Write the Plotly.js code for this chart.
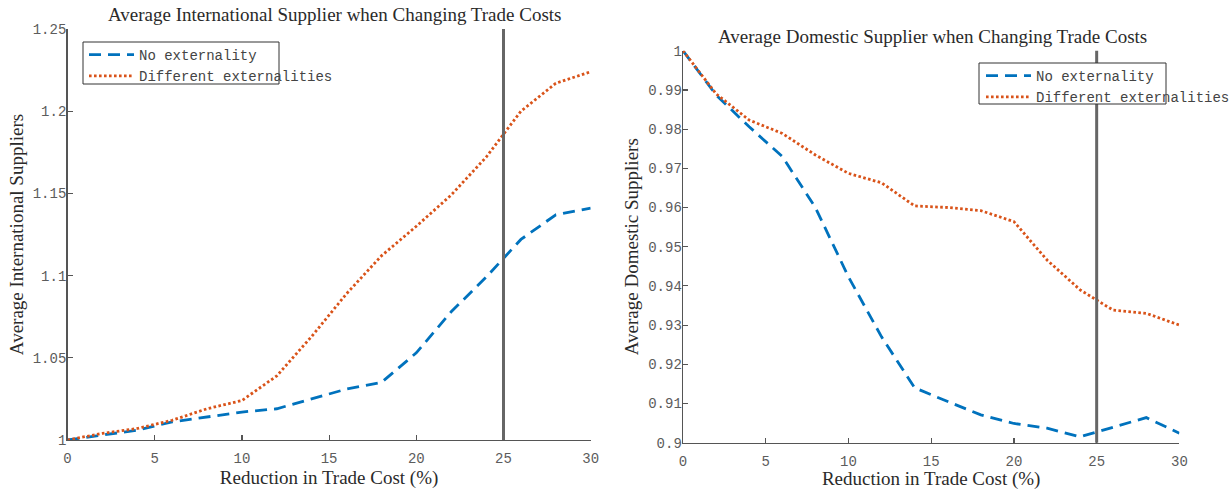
<!DOCTYPE html>
<html>
<head>
<meta charset="utf-8">
<script src="https://cdn.plot.ly/plotly-3.0.1.min.js"></script>
<style>html,body{margin:0;padding:0;background:#fff;}#chart{width:1229px;height:490px;}</style>
</head>
<body>
<div id="chart"></div>
<script>
// Reduction in trade cost (%)
const tradeCut = [0, 2, 4, 6, 8, 10, 12, 14, 16, 18, 20, 22, 24, 26, 28, 30];

// Left panel: average international suppliers
const intlNoExt   = [1.000, 1.003, 1.006, 1.011, 1.014, 1.017, 1.019, 1.025, 1.031, 1.035, 1.053, 1.078, 1.099, 1.122, 1.137, 1.141];
const intlDiffExt = [1.000, 1.004, 1.007, 1.012, 1.019, 1.024, 1.039, 1.063, 1.089, 1.112, 1.130, 1.149, 1.172, 1.200, 1.217, 1.224];

// Right panel: average domestic suppliers
const domNoExt   = [1.000, 0.9887, 0.9806, 0.9730, 0.9600, 0.9423, 0.9270, 0.9140, 0.9105, 0.9071, 0.9049, 0.9037, 0.9015, 0.9040, 0.9064, 0.9024];
const domDiffExt = [1.000, 0.9890, 0.9823, 0.9789, 0.9734, 0.9687, 0.9663, 0.9604, 0.9600, 0.9592, 0.9564, 0.9466, 0.9390, 0.9338, 0.9330, 0.9300];

// Policy marker (vertical line)
const markerX = 25;

// Tick labels
const xTickVals = [0, 5, 10, 15, 20, 25, 30];
const xTickText = ["0", "5", "10", "15", "20", "25", "30"];
const intlTickVals = [1, 1.05, 1.1, 1.15, 1.2, 1.25];
const intlTickText = ["1", "1.05", "1.1", "1.15", "1.2", "1.25"];
const domTickVals = [0.9, 0.91, 0.92, 0.93, 0.94, 0.95, 0.96, 0.97, 0.98, 0.99, 1];
const domTickText = ["0.9", "0.91", "0.92", "0.93", "0.94", "0.95", "0.96", "0.97", "0.98", "0.99", "1"];

const seriesNames = ["No externality", "Different externalities"];

const BLUE = "#0072BD", ORANGE = "#D95319";
const MONO = "Liberation Mono, Courier New, monospace";
const SERIF = "Liberation Serif, Times New Roman, serif";
const AX = "#555";
const DASH = "12px,7px", DOT = "2.6px,2.4px";

const traces = [
  {x: tradeCut, y: intlNoExt, name: seriesNames[0], mode: "lines", line: {color: BLUE, width: 2.8, dash: DASH}, xaxis: "x", yaxis: "y", legend: "legend"},
  {x: tradeCut, y: intlDiffExt, name: seriesNames[1], mode: "lines", line: {color: ORANGE, width: 2.8, dash: DOT}, xaxis: "x", yaxis: "y", legend: "legend"},
  {x: tradeCut, y: domNoExt, name: seriesNames[0], mode: "lines", line: {color: BLUE, width: 2.8, dash: DASH}, xaxis: "x2", yaxis: "y2", legend: "legend2"},
  {x: tradeCut, y: domDiffExt, name: seriesNames[1], mode: "lines", line: {color: ORANGE, width: 2.8, dash: DOT}, xaxis: "x2", yaxis: "y2", legend: "legend2"}
];

const tickFont = {family: MONO, size: 14, color: "#5c5c5c"};
const titleFont = {family: SERIF, size: 19, color: "#2a2a2a"};
const axisCommon = {
  showgrid: false, zeroline: false, showline: true, linecolor: AX, linewidth: 1.4,
  ticks: "inside", ticklen: 5, tickcolor: AX, tickwidth: 1.2,
  tickfont: tickFont
};
const xCommon = Object.assign({}, axisCommon, {range: [0, 30], tickvals: xTickVals, ticktext: xTickText, ticklabelstandoff: 5,
  title: {text: "Reduction in Trade Cost (%)", font: titleFont, standoff: 3}});

const W = 1229, H = 490;
const px = v => v / W, py = v => 1 - v / H;

const legendCommon = {xanchor: "left", yanchor: "top", bgcolor: "rgba(0,0,0,0)", borderwidth: 0,
  font: {family: MONO, size: 14, color: "#444"}, itemwidth: 45, tracegroupgap: 0};

const layout = {
  width: W, height: H,
  margin: {l: 0, r: 0, t: 0, b: 0, autoexpand: false},
  paper_bgcolor: "#fff", plot_bgcolor: "#fff",
  xaxis: Object.assign({}, xCommon, {domain: [px(67.5), px(590.7)], anchor: "y"}),
  yaxis: Object.assign({}, axisCommon, {domain: [py(440), py(29)], range: [1, 1.25], tickvals: intlTickVals, ticktext: intlTickText, anchor: "x",
    ticklabelstandoff: -3, title: {text: "Average International Suppliers", font: titleFont, standoff: 4}}),
  xaxis2: Object.assign({}, xCommon, {domain: [px(683), px(1179.4)], anchor: "y2"}),
  yaxis2: Object.assign({}, axisCommon, {domain: [py(442.7), py(50.7)], range: [0.9, 1], tickvals: domTickVals, ticktext: domTickText, anchor: "x2",
    ticklabelstandoff: -3, title: {text: "Average Domestic Suppliers", font: titleFont, standoff: 4}}),
  legend: Object.assign({}, legendCommon, {x: px(84), y: py(39)}),
  legend2: Object.assign({}, legendCommon, {x: px(981), y: py(60)}),
  shapes: [
    {type: "line", xref: "x", yref: "y domain", x0: markerX, x1: markerX, y0: 0, y1: 1, line: {color: "#666", width: 3}, layer: "above"},
    {type: "line", xref: "x2", yref: "y2 domain", x0: markerX, x1: markerX, y0: 0, y1: 1, line: {color: "#666", width: 3}, layer: "above"},
    {type: "rect", xref: "paper", yref: "paper", x0: px(83), x1: px(279), y0: py(84), y1: py(42), fillcolor: "#fff", line: {color: "#333", width: 1}, layer: "above"},
    {type: "rect", xref: "paper", yref: "paper", x0: px(979), x1: px(1166), y0: py(104), y1: py(63), fillcolor: "#fff", line: {color: "#333", width: 1}, layer: "above"}
  ],
  annotations: [
    {text: "Average International Supplier when Changing Trade Costs", xref: "paper", yref: "paper", x: px(334), y: py(14), xanchor: "center", yanchor: "middle", showarrow: false, font: titleFont},
    {text: "Average Domestic Supplier when Changing Trade Costs", xref: "paper", yref: "paper", x: px(932), y: py(36), xanchor: "center", yanchor: "middle", showarrow: false, font: titleFont}
  ],
  showlegend: true
};

Plotly.newPlot("chart", traces, layout, {displayModeBar: false, staticPlot: true});
</script>
</body>
</html>
